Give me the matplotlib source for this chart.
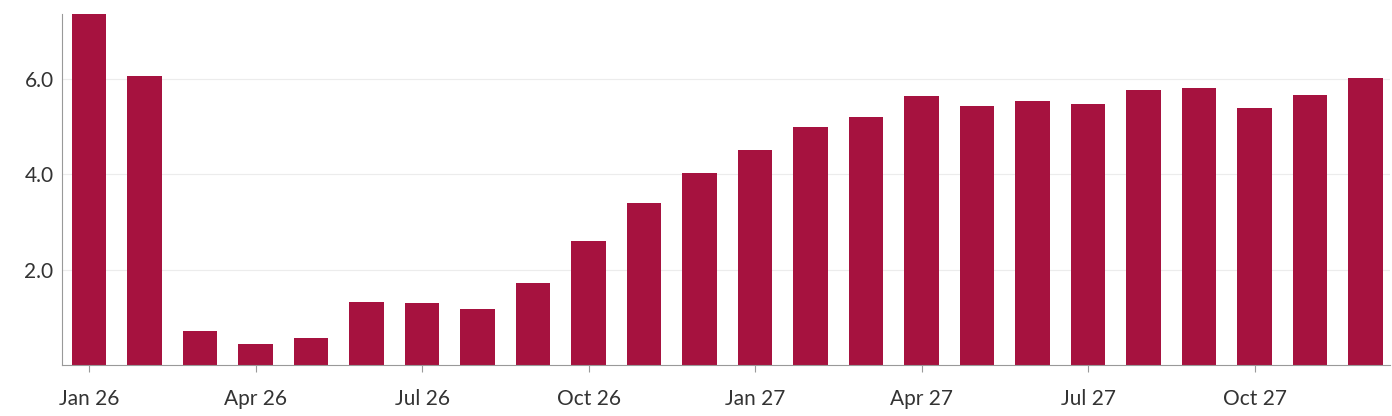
import matplotlib
matplotlib.use("Agg")
import matplotlib.pyplot as plt

months = ["Jan 26", "Feb 26", "Mar 26", "Apr 26", "May 26", "Jun 26",
          "Jul 26", "Aug 26", "Sep 26", "Oct 26", "Nov 26", "Dec 26",
          "Jan 27", "Feb 27", "Mar 27", "Apr 27", "May 27", "Jun 27",
          "Jul 27", "Aug 27", "Sep 27", "Oct 27", "Nov 27", "Dec 27"]
values = [7.4, 6.05, 0.71, 0.44, 0.57, 1.32, 1.30, 1.17, 1.72, 2.60, 3.39, 4.02,
          4.50, 4.98, 5.19, 5.63, 5.42, 5.53, 5.47, 5.76, 5.80, 5.38, 5.65, 6.01]
yticks = [2.0, 4.0, 6.0]

plt.rcParams["font.family"] = ["Lato", "DejaVu Sans"]
fig = plt.figure(figsize=(13.92, 4.16), dpi=100)
ax = fig.add_axes([0.0445, 0.1226, 0.954, 0.8434])

x = list(range(len(values)))
ax.bar(x, values, width=0.62, color="#a6123f", zorder=2)

ax.set_xlim(-0.49, 23.44)
ax.set_ylim(0, 7.35)
ax.set_yticks(yticks)
ax.set_yticklabels([f"{v:.1f}" for v in yticks], fontsize=15, color="#333333")
ax.set_xticks(x[::3])
ax.set_xticklabels(months[::3], fontsize=15, color="#333333")
ax.grid(axis="y", color="#ececec", linewidth=0.8, zorder=0)
ax.tick_params(axis="y", length=0, pad=6)
ax.tick_params(axis="x", length=5, color="#999999", pad=12)
for s in ["top", "right"]:
    ax.spines[s].set_visible(False)
for s in ["left", "bottom"]:
    ax.spines[s].set_color("#999999")
    ax.spines[s].set_linewidth(0.8)

fig.savefig("out.png", dpi=100)
